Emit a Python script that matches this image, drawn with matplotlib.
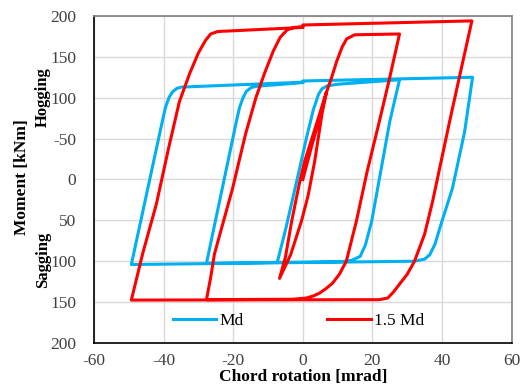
import numpy as np
import matplotlib
matplotlib.use("Agg")
import matplotlib.pyplot as plt

# Md series: chord rotation [mrad] and moment [kNm]
md_rot = [-7.3, -5.0, -3.0, -1.0, 1.0, 3.0, 4.5, 5.5, 7.0, 10.0, 27.8,
          25.0, 19.8, 18.0, 16.5, 14.0, 11.0, -27.7,
          -19.1, -18.2, -17.2, -16.2, -14.8, -13.3, 0.0,
          0.0, 48.8,
          46.5, 43.0, 40.0, 38.0, 36.5, 35.0, 32.0, -49.3,
          -40.4, -39.5, -38.5, -37.5, -36.2, -34.9, 0.0]
md_mom = [-100.5, -62, -25, 12, 50, 85, 104, 111, 114.5, 116.5, 122,
          71, -51, -80, -94, -99, -100.5, -102.5,
          71, 88, 100, 108, 112.5, 114, 118.5,
          120.5, 125,
          58, -11, -51, -79, -92, -97.5, -100, -104,
          71, 88, 100, 107, 111.5, 113, 119]

# 1.5 Md series
md15_rot = [0.0, 2.5, 5.0, 6.8,
            5.5, 3.4, 1.5, -0.4, -3.5, -6.7,
            -5.0, -3.2, -1.0, 0.5, 3.5, 6.5, 8.3, 9.7, 11.3, 12.6, 14.9, 27.8,
            25.0, 22.0, 18.5, 15.4, 12.5, 10.5, 8.5, 6.5, 4.8, 3.0, 1.0, -3.0, -27.7,
            -26.5, -25.4, -20.2, -16.5, -13.5, -11.0, -8.5, -6.5, -4.5, -2.5, 0.0,
            0.0, 48.6,
            45.0, 42.2, 37.3, 35.0, 32.1, 30.0, 27.8, 26.0, 24.4, 22.0, -49.3,
            -46.0, -42.1, -38.5, -35.5, -32.5, -30.0, -28.0, -26.5, -24.5, 0.0]
md15_mom = [0, 40, 78, 107,
            80, 22, -20, -51, -92, -121,
            -95, -51, -5, 22, 62, 103, 125, 144, 162, 172, 177, 178,
            125, 71, 10, -51, -100, -116, -127, -134, -139, -142.5, -145, -146.5, -147,
            -120, -91, -11, 55, 100, 130, 157, 174, 183, 186, 187,
            189, 194,
            125, 71, -27, -67, -100, -116, -128, -138, -145, -147, -147.5,
            -90, -30, 40, 95, 130, 155, 170, 178, 181, 186]

x_ticks = [-60, -40, -20, 0, 20, 40, 60]
y_ticks = [-200, -150, -100, -50, 0, 50, 100, 150, 200]
y_tick_labels = ['200', '150', '100', '50', '0', '-50', '100', '150', '200']

plt.rcParams['font.family'] = ['Liberation Serif', 'DejaVu Serif']
plt.rcParams['axes.unicode_minus'] = False

fig = plt.figure(figsize=(5.2, 3.87), dpi=100)
ax = fig.add_axes([0.181, 0.1137, 0.8027, 0.845])

ax.plot(md_rot, md_mom, color='#00B0F0', lw=2.2, label='Md', solid_joinstyle='round')
ax.plot(md15_rot, md15_mom, color='#FF0000', lw=2.2, label='1.5 Md', solid_joinstyle='round')

ax.set_xlim(-60, 60)
ax.set_ylim(-200, 200)
ax.set_xticks(x_ticks)
ax.set_yticks(y_ticks)
ax.set_yticklabels(y_tick_labels)
ax.tick_params(length=0, labelsize=12.5, colors='#404040')
ax.tick_params(axis='x', pad=7)
ax.tick_params(axis='y', pad=13)
ax.grid(True, color='#D9D9D9', lw=1)
ax.set_axisbelow(True)
for s in ['left', 'bottom']:
    ax.spines[s].set_color('black')
    ax.spines[s].set_linewidth(1.2)
for s in ['top', 'right']:
    ax.spines[s].set_color('#808080')
    ax.spines[s].set_linewidth(1.2)

ax.set_xlabel('Chord rotation [mrad]', fontsize=12.5, fontweight='bold', labelpad=0)
fig.text(0.042, 0.543, 'Moment [kNm]', rotation=90, fontsize=12.5,
         fontweight='bold', ha='center', va='center')
fig.text(0.083, 0.75, 'Hogging', rotation=90, fontsize=12,
         fontweight='bold', ha='center', va='center')
fig.text(0.083, 0.328, 'Sagging', rotation=90, fontsize=12,
         fontweight='bold', ha='center', va='center')

ax.legend(loc='lower center', bbox_to_anchor=(0.49, -0.005), ncol=2, frameon=False,
          fontsize=12.5, handlelength=2.5, handletextpad=0.2, columnspacing=4.8)

fig.savefig('out.png', dpi=100)
